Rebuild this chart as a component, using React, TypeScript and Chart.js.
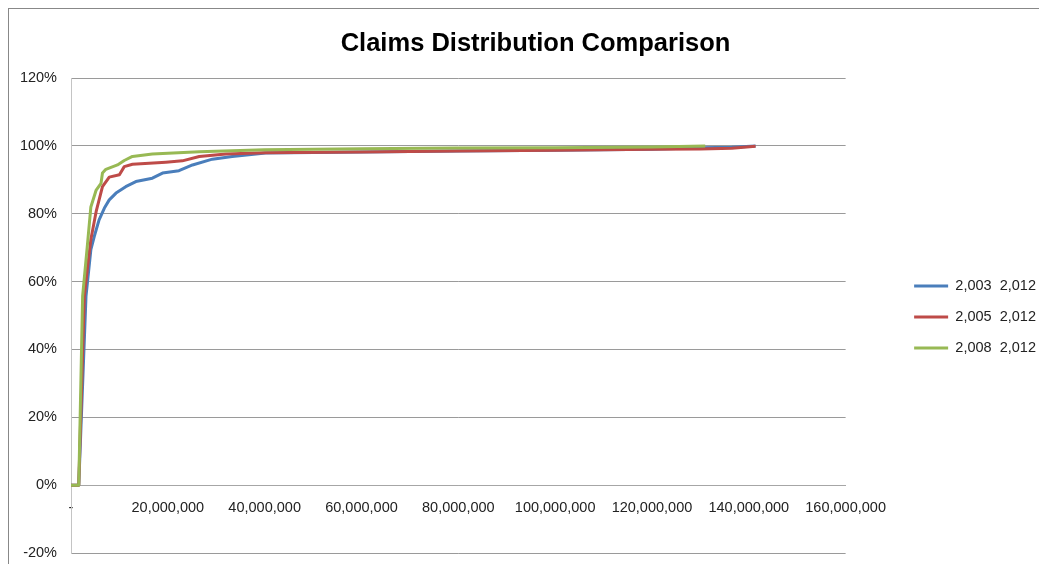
import React, { useEffect, useRef } from "react";
import { Chart, registerables } from "chart.js";

Chart.register(...registerables);

// Claim amounts (millions) and cumulative share of claims (%)
const amountsM2003 = [0, 1.6, 3.1, 4.1, 4.8, 5.8, 6.9, 7.9, 9.3, 11.3, 13.4, 16.8, 18.9, 22.3, 25.1, 29.2, 33.3, 40.2, 60, 80, 100, 120, 130, 136.5, 141.4];
const pct2003 = [0, 0, 55.7, 69.4, 73.3, 78.2, 81.7, 84.1, 86.1, 88, 89.5, 90.5, 92, 92.7, 94.4, 96.1, 96.9, 97.9, 98.2, 98.5, 98.7, 99.0, 99.5, 99.6, 100];

const amountsM2005 = [0, 1.6, 2.75, 3.4, 4.1, 5.2, 6.5, 7.9, 10, 11, 12.7, 19.6, 23, 26.5, 32, 40, 60, 80, 100, 120, 130, 136.5, 141.4];
const pct2005 = [0, 0, 55.7, 64, 72.4, 80.7, 88, 90.8, 91.5, 93.9, 94.6, 95.2, 95.6, 96.9, 97.6, 98.0, 98.2, 98.5, 98.7, 99.0, 99.1, 99.3, 99.9];

const amountsM2008 = [0, 1.6, 2.4, 3.4, 4.1, 5.2, 6.2, 6.5, 7.2, 9.6, 11, 12.7, 16.8, 26.5, 40, 60, 80, 100, 120, 131];
const pct2008 = [0, 0, 55.7, 71, 82, 87, 89, 92, 93.1, 94.4, 95.7, 96.9, 97.6, 98.3, 98.9, 99.2, 99.4, 99.5, 99.7, 100];

const seriesLabels = ["2,003  2,012", "2,005  2,012", "2,008  2,012"];
const seriesColors = ["#4a7ebb", "#be4b48", "#98b954"];
const chartTitle = "Claims Distribution Comparison";

const toPoints = (xs: number[], ys: number[]) => xs.map((x, i) => ({ x: x * 1e6, y: ys[i] }));

const FONT = "'Liberation Sans', Arial, sans-serif";

export default function App() {
  const ref = useRef<HTMLCanvasElement | null>(null);

  useEffect(() => {
    if (!ref.current) return;
    const boxShift = {
      id: "boxShift",
      afterLayout(chart: any) {
        const lg = chart.legend;
        if (lg) {
          const dx = chart.chartArea.right + 52 - lg.left;
          lg.left += dx;
          lg.right += dx;
          lg.top += 36;
          lg.bottom += 36;
        }
        const tb = chart.titleBlock;
        if (tb) {
          tb.left += 34;
          tb.right += 34;
        }
      },
    };
    const chart = new Chart(ref.current, {
      type: "line",
      data: {
        datasets: [
          { label: seriesLabels[0], data: toPoints(amountsM2003, pct2003), borderColor: seriesColors[0], backgroundColor: seriesColors[0], order: 2 },
          { label: seriesLabels[1], data: toPoints(amountsM2005, pct2005), borderColor: seriesColors[1], backgroundColor: seriesColors[1], order: 1 },
          { label: seriesLabels[2], data: toPoints(amountsM2008, pct2008), borderColor: seriesColors[2], backgroundColor: seriesColors[2], order: 0 },
        ].map((d) => ({ ...d, borderWidth: 3, pointRadius: 0, tension: 0, borderJoinStyle: "round" as const, fill: false })),
      },
      options: {
        animation: false,
        responsive: true,
        maintainAspectRatio: false,
        layout: { padding: { left: 0, right: 53, top: 0, bottom: 11 } },
        plugins: {
          title: {
            display: true,
            text: chartTitle,
            color: "#000",
            font: { family: FONT, size: 25.5, weight: "bold" },
            padding: { top: 20, bottom: 18.5 },
          },
          legend: {
            display: true,
            position: "right",
            align: "center",
            labels: {
              usePointStyle: true,
              pointStyle: "line",
              pointStyleWidth: 34,
              color: "#222",
              padding: 16.5,
              font: { family: FONT, size: 14.5 },
              sort: (a: any, b: any) => a.datasetIndex - b.datasetIndex,
            },
          },
          tooltip: { enabled: false },
        },
        scales: {
          x: {
            type: "linear",
            position: { y: 0 } as any,
            min: 0,
            max: 160e6,
            grid: { display: false, drawTicks: false },
            border: { display: true, color: "#a6a6a6", width: 1 },
            ticks: {
              stepSize: 20e6,
              color: "#222",
              padding: 14,
              maxRotation: 0,
              autoSkip: false,
              font: { family: FONT, size: 14.5 },
              callback: (v: any) => (Number(v) === 0 ? "-" : Number(v).toLocaleString("en-US")),
            },
          },
          y: {
            min: -20,
            max: 120,
            grid: { color: "#9a9a9a", lineWidth: 1, drawTicks: false },
            border: { display: true, color: "#c4c4c4", width: 1 },
            ticks: {
              stepSize: 20,
              color: "#222",
              padding: 14,
              font: { family: FONT, size: 14.5 },
              callback: (v: any) => `${v}%`,
            },
            afterFit: (axis: any) => {
              axis.width = 62;
              axis.paddingTop = 0;
              axis.paddingBottom = 0;
            },
          },
        },
      },
      plugins: [boxShift],
    });
    return () => chart.destroy();
  }, []);

  return (
    <div
      style={{
        width: 1039,
        height: 556,
        borderLeft: "1px solid #888888",
        borderTop: "1px solid #888888",
        boxSizing: "border-box",
        position: "relative",
      }}
    >
      <canvas ref={ref} />
    </div>
  );
}
